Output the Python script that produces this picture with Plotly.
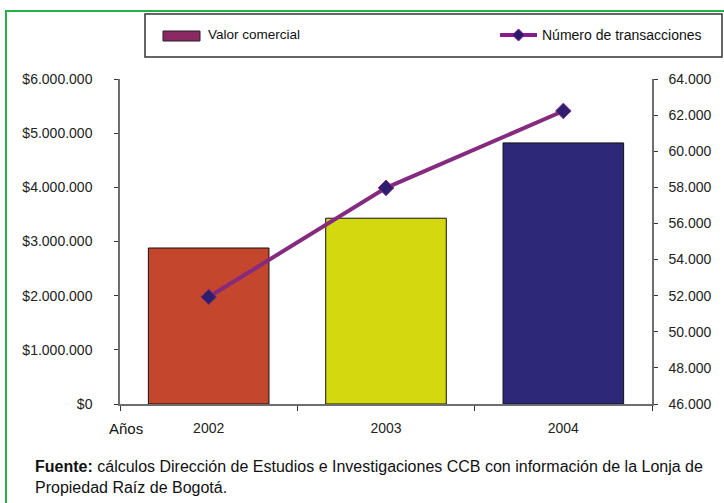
import plotly.graph_objects as go

# data
years = ['2002', '2003', '2004']
valor_comercial = [2880000, 3430000, 4820000]
num_transacciones = [51930, 57970, 62230]
bar_colors = ['#C4462C', '#D4D80E', '#2E2878']
left_ticks = [i * 1000000 for i in range(7)]
right_ticks = list(range(46000, 64001, 2000))

FONT = 'Arial, Liberation Sans, sans-serif'
W, H = 724, 503
L, R, T, B = 120, 72, 79, 99
PW, PH = W - L - R, H - T - B


def px(x):
	return (x - L) / PW


def py(y):
	return (H - B - y) / PH


fig = go.Figure()
fig.add_trace(go.Bar(
	x=years, y=valor_comercial, width=0.68,
	marker={'color': bar_colors, 'line': {'color': '#111111', 'width': 1}},
	showlegend=False, yaxis='y',
))
fig.add_trace(go.Scatter(
	x=years, y=num_transacciones, mode='lines+markers', yaxis='y2',
	line={'color': '#862A80', 'width': 4},
	marker={'symbol': 'diamond', 'size': 12, 'color': '#2E1E6E', 'line': {'color': '#862A80', 'width': 1}},
	showlegend=False,
))

tickfont = {'family': FONT, 'size': 14, 'color': '#222222'}
axis_common = dict(
	showline=True, linecolor='#6E6E6E', linewidth=1.5,
	ticks='outside', ticklen=4, tickwidth=1.2, tickcolor='#333333',
	showgrid=False, zeroline=False, tickfont=tickfont,
)
# inner halves of the crossing tick marks
inner_ticks = dict(
	showline=False, ticks='inside', tickwidth=1.2, tickcolor='#333333',
	showgrid=False, zeroline=False, showticklabels=False,
)

fig.update_layout(
	width=W, height=H,
	margin={'l': L, 'r': R, 't': T, 'b': B},
	paper_bgcolor='white', plot_bgcolor='white',
	separators=',.',
	xaxis=dict(axis_common, type='category', tickson='boundaries', ticklen=5, ticklabelstandoff=10),
	xaxis2=dict(inner_ticks, overlaying='x', anchor='y', side='bottom', range=[-0.5, 2.5],
		tickmode='array', tickvals=[-0.5, 0.5, 1.5, 2.5], ticklen=4),
	yaxis=dict(axis_common, range=[0, 6000000], dtick=1000000,
		tickformat=',d', tickprefix='$', ticklabelstandoff=19),
	yaxis2=dict(axis_common, range=[46000, 64000], dtick=2000,
		tickformat=',d', side='right', overlaying='y', anchor='x', ticklabelstandoff=8),
	yaxis3=dict(inner_ticks, range=[0, 6000000], tickmode='array', tickvals=left_ticks,
		overlaying='y', anchor='x', side='left', ticklen=6),
	yaxis4=dict(inner_ticks, range=[46000, 64000], tickmode='array', tickvals=right_ticks,
		overlaying='y', anchor='x', side='right', ticklen=4),
	showlegend=False,
)

# frame and legend box
shapes = [
	dict(type='rect', xref='paper', yref='paper', x0=px(6), x1=px(740), y0=py(520), y1=py(11),
		line={'color': '#22B04A', 'width': 2}, fillcolor='rgba(0,0,0,0)', layer='below'),
	dict(type='rect', xref='paper', yref='paper', x0=px(145), x1=px(722), y0=py(57), y1=py(14),
		line={'color': '#333333', 'width': 1.5}, fillcolor='white'),
	dict(type='rect', xref='paper', yref='paper', x0=px(163), x1=px(200), y0=py(41), y1=py(31),
		line={'color': '#222222', 'width': 1}, fillcolor='#8B2A62'),
	dict(type='line', xref='paper', yref='paper', x0=px(500), x1=px(537), y0=py(35), y1=py(35),
		line={'color': '#8B1A8B', 'width': 4}),
	dict(type='path', xref='paper', yref='paper',
		path=f'M{px(512.5)},{py(35)} L{px(518.5)},{py(29)} L{px(524.5)},{py(35)} L{px(518.5)},{py(41)} Z',
		line={'color': '#8B1A8B', 'width': 1}, fillcolor='#2A1A6E'),
]
fig.update_layout(shapes=shapes)

annotations = [
	dict(text='Valor comercial', x=px(206), y=py(35), size=13.5),
	dict(text='Número de transacciones', x=px(540), y=py(35)),
	dict(text='Años', x=px(107), y=py(428), size=15),
	dict(text='<b>Fuente:</b> cálculos Dirección de Estudios e Investigaciones CCB con información de la Lonja de', x=px(33), y=py(466), size=16),
	dict(text='Propiedad Raíz de Bogotá.', x=px(33), y=py(487), size=16),
]
for a in annotations:
	fig.add_annotation(
		text=a['text'], x=a['x'], y=a['y'], xref='paper', yref='paper',
		xanchor='left', yanchor='middle', showarrow=False,
		font={'family': FONT, 'size': a.get('size', 14), 'color': '#111111'},
	)

fig.write_html('out.html', config={'displayModeBar': False},
	post_script="document.body.style.margin='0';")
